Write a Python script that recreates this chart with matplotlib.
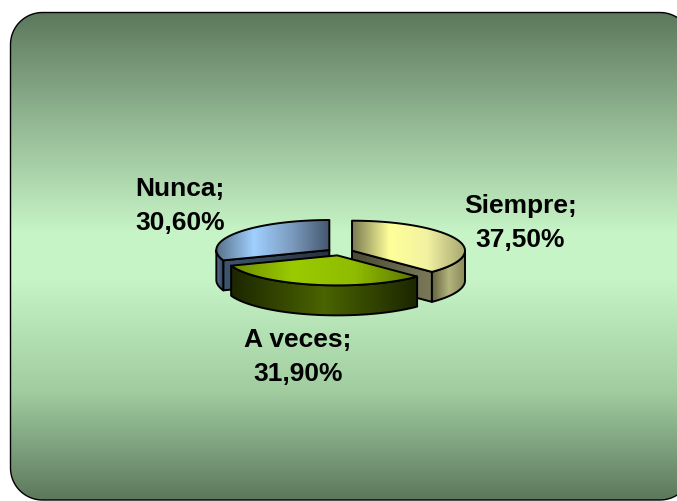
import numpy as np
import matplotlib
matplotlib.use("Agg")
import matplotlib.pyplot as plt
from matplotlib.patches import Polygon
from matplotlib.colors import LinearSegmentedColormap

# ---- data ----
categories = ["Siempre", "A veces", "Nunca"]
values = [37.5, 31.9, 30.6]
pct_labels = ["37,50%", "31,90%", "30,60%"]

# ---- styles ----
top_stops = [
    ["#7a7a52", "#ffff99", "#f2f2a2", "#a8a872"],
    ["#6c8c00", "#9acb00", "#8fbc00", "#5a7400"],
    ["#587088", "#a0d0ff", "#7c9cc0", "#46586e"],
]
side_stops = [
    ["#64643f", "#b4b47e", "#868659"],
    ["#1c2600", "#4a6400", "#1c2600"],
    ["#5a7898", "#34465c"],
]
radial_stops = [
    ["#4a4a34", "#7a7a5a"],
    ["#1c2600", "#3a5000"],
    ["#3e5670", "#26323f"],
]

W, H = 677, 502
fig = plt.figure(figsize=(W / 100, H / 100), dpi=100)
fig.patch.set_facecolor("white")
ax = fig.add_axes([0, 0, 1, 1])
ax.set_xlim(0, W)
ax.set_ylim(H, 0)
ax.axis("off")


def grad_fill(patch, bbox, stops, z, horizontal=True):
    x0, x1, y0, y1 = bbox
    cmap = LinearSegmentedColormap.from_list("g", stops)
    g = np.linspace(0, 1, 256)
    img = g[None, :] if horizontal else g[:, None]
    im = ax.imshow(img, cmap=cmap, extent=(x0, x1, y1, y0), aspect="auto",
                   zorder=z, interpolation="bilinear", vmin=0, vmax=1)
    im.set_clip_path(patch)


def grad_poly(verts, stops, z, lw=1.4):
    verts = np.asarray(verts)
    poly = Polygon(verts, closed=True, facecolor="none", edgecolor="black",
                   lw=lw, zorder=z + 0.5, joinstyle="round")
    ax.add_patch(poly)
    bbox = (verts[:, 0].min(), verts[:, 0].max(), verts[:, 1].min(), verts[:, 1].max())
    if bbox[1] - bbox[0] < 0.5:
        return
    grad_fill(poly, bbox, stops, z)


def rounded_rect(x0, y0, x1, y1, r, n=20):
    pts = []
    corners = [(x1 - r, y0 + r, -np.pi / 2, 0), (x1 - r, y1 - r, 0, np.pi / 2),
               (x0 + r, y1 - r, np.pi / 2, np.pi), (x0 + r, y0 + r, np.pi, 1.5 * np.pi)]
    for ccx, ccy, s, e in corners:
        for t in np.linspace(s, e, n):
            pts.append((ccx + r * np.cos(t), ccy + r * np.sin(t)))
    return np.array(pts)


# ---- background rounded panel ----
bx0, by0, bx1, by1 = 10.5, 13.5, 692, 501
pverts = rounded_rect(bx0, by0, bx1, by1, 32)
panel = Polygon(pverts, closed=True, facecolor="none", edgecolor="black", lw=1.0, zorder=1.5)
ax.add_patch(panel)
bg = LinearSegmentedColormap.from_list(
    "bg", [(0.0, "#5d785d"), (0.22, "#92b692"), (0.45, "#c6f4c6"),
           (0.55, "#c6f4c6"), (0.78, "#a0cca0"), (1.0, "#5d785d")])
g = np.linspace(0, 1, 256)[:, None]
im = ax.imshow(g, cmap=bg, extent=(bx0, bx1, by1, by0), aspect="auto",
               zorder=1, interpolation="bilinear", vmin=0, vmax=1)
im.set_clip_path(panel)

# ---- 3D pie ----
cx, cy = 340.0, 253.0
a, b = 113.0, 30.0
depth = 30.0
explode = 0.115

vals = np.asarray(values, dtype=float)
bounds = np.concatenate([[0], np.cumsum(vals) / vals.sum() * 2 * np.pi])


def P(c, th):
    return np.array([c[0] + a * np.sin(th), c[1] - b * np.cos(th)])


zorders = [20, 30, 10]
for i in range(len(vals)):
    t1, t2 = bounds[i], bounds[i + 1]
    mid = 0.5 * (t1 + t2)
    c = np.array([cx + a * explode * np.sin(mid), cy - b * explode * np.cos(mid)])
    d = np.array([0, depth])
    z = zorders[i]

    # radial faces (only those facing the viewer)
    for t, nrm in ((t1, t1 - np.pi / 2), (t2, t2 + np.pi / 2)):
        if np.cos(nrm) < -1e-3:
            p = P(c, t)
            grad_poly([c, p, p + d, c + d], radial_stops[i], z)

    # outer curved side (front half only)
    s1, s2 = max(t1, np.pi / 2), min(t2, 3 * np.pi / 2)
    if s2 > s1:
        ts = np.linspace(s1, s2, 80)
        top = np.array([P(c, t) for t in ts])
        verts = np.vstack([top, (top + d)[::-1]])
        grad_poly(verts, side_stops[i], z + 2)

    # top face
    ts = np.linspace(t1, t2, 120)
    verts = np.vstack([c[None, :], np.array([P(c, t) for t in ts])])
    grad_poly(verts, top_stops[i], z + 4)

    # label (two lines, baseline aligned)
    lx = cx + 195 * np.sin(mid)
    lyc = cy - 87 * np.cos(mid) + (16 if np.cos(mid) < 0 else 0)
    for k, txt in enumerate((f"{categories[i]};", pct_labels[i])):
        ax.text(lx, lyc - 7 + 34 * k, txt, ha="center", va="baseline",
                fontsize=19, fontweight="bold",
                family=["Liberation Sans", "DejaVu Sans"], zorder=50)

ax.set_xlim(0, W)
ax.set_ylim(H, 0)
fig.savefig("out.png", dpi=100)
